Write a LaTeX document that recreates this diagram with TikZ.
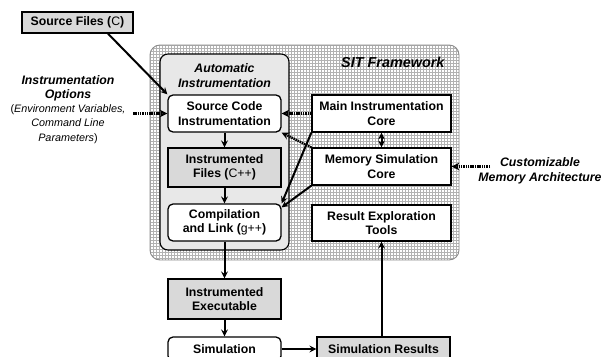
\documentclass[tikz,border=0pt]{standalone}
\usepackage{fontspec}
\setmainfont{Liberation Sans}
\usetikzlibrary{positioning,arrows}

\begin{document}
\begin{tikzpicture}[x=1pt,y=-1pt,>=stealth,auto,
  every node/.style={font=\fontsize{12.3}{14.5}\selectfont\bfseries},
  white node/.style={draw,line width=1.3pt,rounded corners=5pt,fill=white,align=center,inner sep=0pt,minimum height=37pt,minimum width=113pt},
  gray node/.style={draw,line width=1.3pt,fill=black!15,align=center,inner sep=0pt,minimum height=39pt,minimum width=113pt},
  wide node/.style={draw,line width=1.3pt,fill=white,align=center,inner sep=0pt,minimum height=37pt,minimum width=139pt},
  dotflow/.style={->,line width=2.3pt,dash pattern=on 1.5pt off 0.8pt},
  solidflow/.style={->,line width=2pt}]
            \useasboundingbox (0,0) rectangle (601,356);

            % SIT framework background
            \begin{scope}
                \clip[rounded corners=10pt] (150,45) rectangle (459,260);
                \fill[white] (150,45) rectangle (459,260);
                \draw[black!30,line width=0.45pt,step=3pt] (150,45) grid (459,260);
            \end{scope}
            \draw[black!45,line width=0.9pt,rounded corners=10pt] (150,45) rectangle (459,260);
            \draw[line width=1.1pt,fill=black!9,rounded corners=8pt] (160,54) rectangle (289,250);

            \node[] (sit) [anchor=east] at (448,62) {\fontsize{14.4}{16}\selectfont\itshape SIT Framework};
            \node[] (auto) [align=center] at (224.5,75.5) {\itshape Automatic\\\itshape Instrumentation};

            % left column
            \node[white node] (sci) at (224.5,113.5) {Source Code\\Instrumentation};
            \node[gray node] (ifiles) [below of = sci, node distance=54pt] {Instrumented\\Files ({\mdseries C++})};
            \node[white node] (comp) [below of = ifiles, node distance=55pt] {Compilation\\and Link ({\mdseries g++})};
            \node[gray node, minimum height=40pt] (iexe) [below of = comp, node distance=76.5pt] {Instrumented\\Executable};
            \node[white node, minimum height=24pt] (sim) [below of = iexe, node distance=50pt] {Simulation};

            % right column
            \node[wide node] (mic) [right of = sci, node distance=157pt] {Main Instrumentation\\Core};
            \node[wide node] (msc) [below of = mic, node distance=53pt] {Memory Simulation\\Core};
            \node[wide node, minimum height=36pt] (ret) [below of = msc, node distance=56.5pt] {Result Exploration\\Tools};
            \node[gray node, minimum height=24pt, minimum width=133pt] (simres) [right of = sim, node distance=159pt] {Simulation Results};

            % inputs
            \node[gray node, minimum height=21pt, minimum width=111pt] (src) at (77.5,22.5) {Source Files ({\mdseries C})};
            \node[] (opts) [align=center] at (68,109.5) {\itshape Instrumentation\\\itshape Options\\[-1pt]
                {\fontsize{10.8}{13.5}\selectfont\mdseries(\textit{Environment Variables,}}\\
                {\fontsize{10.8}{13.5}\selectfont\mdseries\itshape Command Line}\\
                {\fontsize{10.8}{13.5}\selectfont\mdseries\textit{Parameters})}};
            \node[] (cust) [align=center] at (540,171) {\itshape Customizable\\\itshape Memory Architecture};
            \coordinate (optsend) at (133,113.5);
            \coordinate (custend) at (490,166.5);

            % solid flows
            \draw[solidflow] ([xshift=30.5pt]src.south) -- (sci.north west);
            \draw[solidflow] (sci) -- (ifiles);
            \draw[solidflow] (ifiles) -- (comp);
            \draw[solidflow] (comp) -- (iexe);
            \draw[solidflow] (iexe) -- (sim);
            \draw[solidflow] (sim) -- (simres);
            \draw[solidflow] (simres.north -| ret.south) -- (ret.south);
            \draw[solidflow] (mic.south west) -- (comp.north east);
            \draw[solidflow] (msc.south west) -- ([yshift=-4pt]comp.north east);
            \draw[solidflow,<->] (mic) -- (msc);
            % dotted flows
            \draw[dotflow] (optsend) -- (sci.west);
            \draw[dotflow] (mic.west) -- (sci.east);
            \draw[dotflow] (msc.north west) -- (sci.south east);
            \draw[dotflow] (custend) -- (msc.east);
        \end{tikzpicture}
\end{document}
